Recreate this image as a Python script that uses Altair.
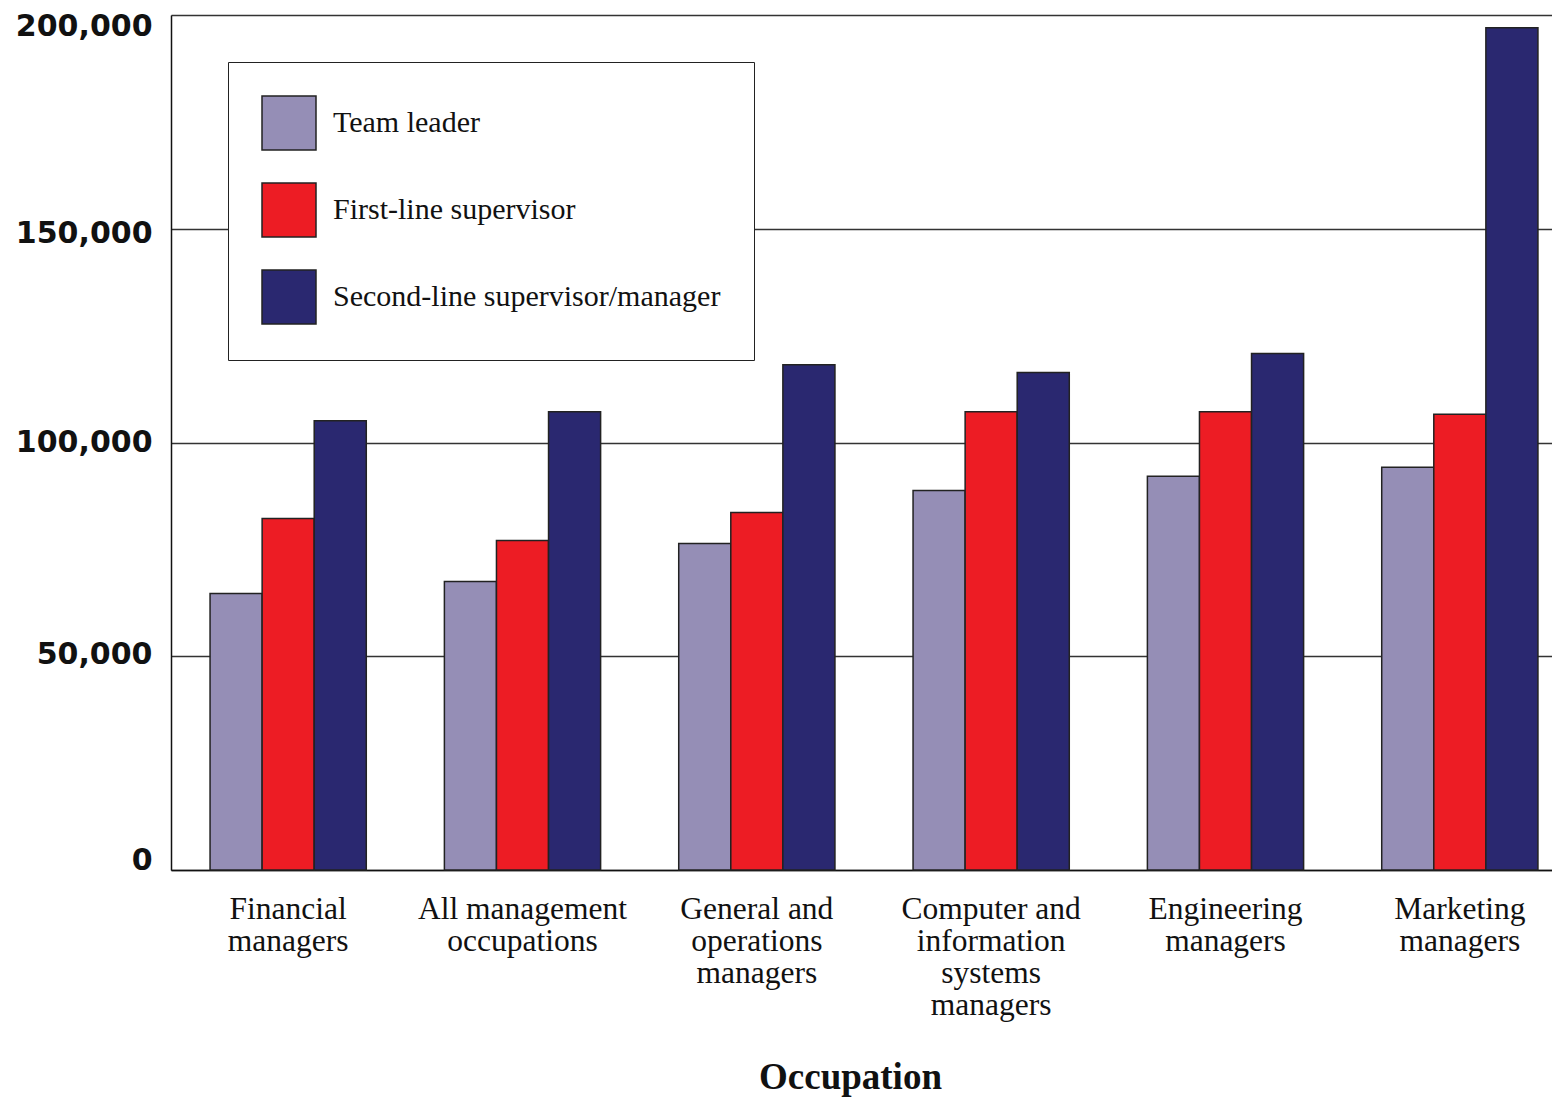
import json
import altair as alt
import pandas as pd

occupations = [
    "Financial managers",
    "All management occupations",
    "General and operations managers",
    "Computer and information systems managers",
    "Engineering managers",
    "Marketing managers",
]
label_lines = [
    ["Financial", "managers"],
    ["All management", "occupations"],
    ["General and", "operations", "managers"],
    ["Computer and", "information", "systems", "managers"],
    ["Engineering", "managers"],
    ["Marketing", "managers"],
]
series = ["Team leader", "First-line supervisor", "Second-line supervisor/manager"]
team_leader = [64700, 67500, 76400, 88800, 92100, 94200]
first_line = [82200, 77100, 83600, 107200, 107200, 106600]
second_line = [105100, 107200, 118200, 116400, 120800, 197000]
y_ticks = [0, 50000, 100000, 150000, 200000]
colors = ["#958EB6", "#ED1C24", "#2A2870"]

rows = []
for i, occ in enumerate(occupations):
    for s, vals in zip(series, [team_leader, first_line, second_line]):
        rows.append({"Occupation": occ, "Level": s, "Salary": vals[i]})
df = pd.DataFrame(rows)

label_map = json.dumps(dict(zip(occupations, label_lines)))

serif = "Liberation Serif"
sans = "DejaVu Sans"

y_label_offset = {
    "condition": [
        {"test": "datum.value == 200000", "value": 11},
        {"test": "datum.value == 150000", "value": 5},
        {"test": "datum.value == 50000", "value": -2},
        {"test": "datum.value == 0", "value": -10},
    ],
    "value": 0,
}

chart = alt.Chart(df).mark_bar(stroke="#222222", strokeWidth=1.5).encode(
    x=alt.X(
        "Occupation:N",
        sort=occupations,
        scale=alt.Scale(range=[0, 1406], paddingInner=1/3, paddingOuter=1/6),
        axis=alt.Axis(
            title="Occupation",
            titleFont=serif,
            titleFontSize=37,
            titleFontWeight="bold",
            titleColor="#111111",
            titleX=679,
            titleY=218,
            titleBaseline="alphabetic",
            labelFont=serif,
            labelFontSize=31.5,
            labelColor="#111111",
            labelLineHeight=32,
            labelAngle=0,
            labelPadding=23,
            labelLimit=400,
            labelExpr=f"{label_map}[datum.label]",
            ticks=False,
            domainColor="#111111",
            domainWidth=1.5,
            grid=False,
        ),
    ),
    xOffset=alt.XOffset("Level:N", sort=series, scale=alt.Scale(paddingInner=0, paddingOuter=0)),
    y=alt.Y(
        "Salary:Q",
        scale=alt.Scale(domain=[0, 200000], nice=False),
        axis=alt.Axis(
            title=None,
            values=y_ticks,
            format=",d",
            labelFont=sans,
            labelFontSize=30,
            labelFontWeight="bold",
            labelColor="#111111",
            labelPadding=19,
            labelOffset=y_label_offset,
            ticks=False,
            domainColor="#111111",
            domainWidth=1.5,
            gridColor="#333333",
            gridWidth=1.5,
            gridOpacity=1,
        ),
    ),
    color=alt.Color(
        "Level:N",
        sort=series,
        scale=alt.Scale(domain=series, range=colors),
        legend=alt.Legend(
            title=None,
            orient="none",
            legendX=57,
            legendY=47,
            direction="vertical",
            symbolType="square",
            symbolSize=2916,
            symbolStrokeColor="#222222",
            symbolStrokeWidth=1.5,
            symbolOpacity=1,
            labelFont=serif,
            labelFontSize=30,
            labelColor="#111111",
            labelOffset=16,
            labelLimit=600,
            rowPadding=27,
            padding=33,
            strokeColor="#222222",
            fillColor="#ffffff",
        ),
    ),
).properties(
    width=1381,
    height=855,
    autosize=alt.AutoSizeParams(type="none"),
    padding={"left": 163, "top": 7, "right": 0, "bottom": 227},
).configure_view(stroke=None).configure(background="#ffffff")

chart.save("out.html", embed_options={"renderer": "svg", "actions": False})
